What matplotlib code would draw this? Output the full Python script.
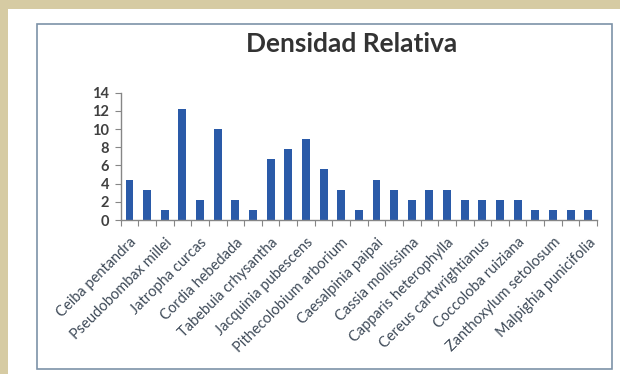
import matplotlib.pyplot as plt
from matplotlib.patches import Rectangle

# Densidad relativa por especie (27 especies, solo se rotulan una de cada dos)
densidad = [4.44, 3.33, 1.11, 12.22, 2.22, 10.0, 2.22, 1.11, 6.67, 7.78, 8.89,
            5.56, 3.33, 1.11, 4.44, 3.33, 2.22, 3.33, 3.33, 2.22, 2.22, 2.22,
            2.22, 1.11, 1.11, 1.11, 1.11]
etiquetas = ['Ceiba pentandra', 'Pseudobombax millei', 'Jatropha curcas',
             'Cordia hebedada', 'Tabebuia crhysantha', 'Jacquinia pubescens',
             'Pithecolobium arborium', 'Caesalpinia paipai', 'Cassia mollissima',
             'Capparis heterophylla', 'Cereus cartwrightianus', 'Coccoloba ruiziana',
             'Zanthoxylum setolosum', 'Malpighia punicifolia']
yticks = [0, 2, 4, 6, 8, 10, 12, 14]

plt.rcParams['font.family'] = ['Lato', 'DejaVu Sans']

W, H = 620, 374
fig = plt.figure(figsize=(W / 100, H / 100), dpi=100)
fig.patch.set_facecolor('#d6cba3')

# panel blanco y marco del grafico
fig.patches.append(Rectangle((8 / W, 0), 1, 1 - 9 / H, transform=fig.transFigure,
                             facecolor='white', edgecolor='none', zorder=0))
fig.patches.append(Rectangle((37 / W, 1 - 369 / H), (612 - 37) / W, (369 - 24) / H,
                             transform=fig.transFigure, facecolor='none',
                             edgecolor='#7d92a8', linewidth=1.2, zorder=1))

ax = fig.add_axes([120.7 / W, 1 - 220 / H, (597 - 120.7) / W, (220 - 92.7) / H])
ax.set_facecolor('none')
ax.set_zorder(5)

x = list(range(len(densidad)))
ax.bar(x, densidad, width=0.45, color='#2a5aa8', zorder=2)

ax.set_xlim(-0.5, len(densidad) - 0.5)
ax.set_ylim(0, 14)
ax.set_yticks(yticks)
ax.set_yticklabels([str(v) for v in yticks], fontsize=10.5, fontweight='bold', color='#404040')

# marcas en los limites de categoria, rotulos cada dos barras
ax.set_xticks([i - 0.5 for i in range(len(densidad) + 1)])
ax.set_xticklabels([])
ax.set_xticks(x[::2], minor=True)
ax.set_xticklabels(etiquetas, minor=True, rotation=45, ha='right',
                   rotation_mode='anchor', fontsize=10.5, color='#3e4a58')
ax.tick_params(axis='x', which='major', length=4, direction='out', color='#868686')
ax.tick_params(axis='x', which='minor', length=0, pad=11)
ax.tick_params(axis='y', length=4, direction='out', color='#868686', pad=4.5)

for s in ['top', 'right']:
    ax.spines[s].set_visible(False)
for s in ['left', 'bottom']:
    ax.spines[s].set_color('#868686')
    ax.spines[s].set_linewidth(1)

fig.text(352 / W, 1 - 44 / H, 'Densidad Relativa', ha='center', va='center',
         fontsize=19, fontweight='bold', color='#333333')

fig.savefig('out.png', dpi=100, facecolor=fig.get_facecolor())
